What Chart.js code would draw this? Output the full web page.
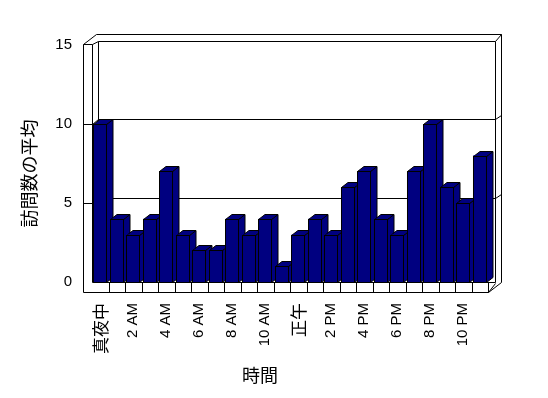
<!DOCTYPE html>
<html>
<head>
<meta charset="utf-8">
<script src="https://cdn.jsdelivr.net/npm/chart.js@4/dist/chart.umd.min.js"></script>
<style>
  html, body { margin: 0; padding: 0; background: #fff; }
</style>
</head>
<body>
<canvas id="visits" width="548" height="398"></canvas>
<script>
// hourly categories, only every other one gets a tick label
const hours = ['真夜中', '1 AM', '2 AM', '3 AM', '4 AM', '5 AM', '6 AM', '7 AM', '8 AM', '9 AM', '10 AM', '11 AM',
               '正午', '1 PM', '2 PM', '3 PM', '4 PM', '5 PM', '6 PM', '7 PM', '8 PM', '9 PM', '10 PM', '11 PM'];
const avgVisits = [10, 4, 3, 4, 7, 3, 2, 2, 4, 3, 4, 1, 3, 4, 3, 6, 7, 4, 3, 7, 10, 6, 5, 8];
const yTicks = [0, 5, 10, 15];
const gridValues = [5, 10];
const xTitle = '時間';
const yTitle = '訪問数の平均';

const NAVY = '#000080';
const FONT = "'Liberation Sans', 'Noto Sans CJK JP', sans-serif";
const DX = 6.5, DY = -5;   // depth of the bars

function poly(ctx, pts, fill) {
    ctx.beginPath();
    ctx.moveTo(pts[0][0], pts[0][1]);
    for (let i = 1; i < pts.length; i++) ctx.lineTo(pts[i][0], pts[i][1]);
    if (fill) {
        ctx.closePath();
        ctx.fillStyle = fill;
        ctx.fill();
    }
    ctx.stroke();
}

function barBox(bar) {
    return {
        l: Math.round(bar.x - bar.width / 2) + 0.5,
        r: Math.round(bar.x + bar.width / 2) - 0.5,
        t: Math.round(bar.y) + 0.5,
        b: Math.round(bar.base) + 0.5
    };
}

// walls, floor and back gridlines + the sides/tops of the bars
const frame3d = {
    id: 'frame3d',
    beforeDatasetsDraw(chart) {
        const ctx = chart.ctx;
        const a = chart.chartArea;
        const y = chart.scales.y;
        const L = Math.round(a.left) + 0.5, R = Math.round(a.right) + 0.5;
        const T = Math.round(a.top) + 0.5, B = Math.round(a.bottom) + 0.5;

        ctx.save();
        ctx.strokeStyle = '#000';
        ctx.lineWidth = 1;

        // outer outline
        poly(ctx, [[L - 9, T - 1], [L + 4, T - 11], [R + 13, T - 11], [R + 13, B], [R, B + 10],
                   [L - 9, B + 10], [L - 9, T - 1]]);
        // left wall
        poly(ctx, [[L - 9, T - 1], [L, T - 1], [L, B]]);
        poly(ctx, [[L, T - 1], [L + 6, T - 4]]);
        // back wall
        poly(ctx, [[L + 6, B], [L + 6, T - 4], [R + 7, T - 4], [R + 7, B]]);
        poly(ctx, [[R + 7, T - 4], [R + 13, T - 11]]);
        // floor
        poly(ctx, [[L, B], [R + 7, B]]);
        const w = (a.right - a.left) / hours.length;
        for (let i = 1; i <= hours.length; i++) {
            const xx = Math.round(a.left + i * w) + 0.5;
            poly(ctx, [[xx, B], [xx, B + 10]]);
        }
        poly(ctx, [[R, B + 10], [R + 7, B + 1]]);

        // gridlines
        gridValues.forEach(v => {
            const yf = Math.round(y.getPixelForValue(v)) + 0.5;
            const yb = yf - 5;
            poly(ctx, [[L - 9, yf], [L, yf], [L + 6, yb], [R + 7, yb], [R + 13, yb - 4]]);
        });

        // bar sides and tops
        chart.getDatasetMeta(0).data.forEach(bar => {
            const {l, r, t, b} = barBox(bar);
            poly(ctx, [[r, t], [r + DX, t + DY], [r + DX, b + DY], [r, b]], NAVY);
            poly(ctx, [[l, t], [l + DX, t + DY], [r + DX, t + DY], [r, t]], NAVY);
        });
        ctx.restore();
    },
    afterDatasetsDraw(chart) {
        // crisp black outline on the front faces
        const ctx = chart.ctx;
        ctx.save();
        ctx.strokeStyle = '#000';
        ctx.lineWidth = 1;
        chart.getDatasetMeta(0).data.forEach(bar => {
            const {l, r, t, b} = barBox(bar);
            ctx.fillStyle = NAVY;
            ctx.fillRect(l, t, r - l, b - t);
            ctx.strokeRect(l, t, r - l, b - t);
        });
        ctx.restore();
    },
    afterDraw(chart) {
        const ctx = chart.ctx;
        const a = chart.chartArea;
        ctx.save();
        ctx.fillStyle = '#000';
        ctx.font = "18px 'Noto Sans CJK JP', sans-serif";
        ctx.textAlign = 'center';
        ctx.textBaseline = 'middle';
        ctx.fillText(xTitle, (a.left + a.right) / 2 - 30, 375);
        ctx.translate(29, (a.top + a.bottom) / 2 + 10);
        ctx.rotate(-Math.PI / 2);
        ctx.fillText(yTitle, 0, 0);
        ctx.restore();
    }
};

new Chart(document.getElementById('visits'), {
    type: 'bar',
    data: {
        labels: hours,
        datasets: [{
            data: avgVisits,
            backgroundColor: NAVY,
            borderWidth: 0,
            barPercentage: 0.82,
            categoryPercentage: 1
        }]
    },
    options: {
        responsive: false,
        animation: false,
        layout: { padding: { top: 45, right: 60, left: 0, bottom: 0 } },
        plugins: { legend: { display: false }, tooltip: { enabled: false } },
        scales: {
            x: {
                grid: { display: false, drawTicks: false },
                border: { display: false },
                afterFit: s => { s.height = 116; },
                ticks: {
                    autoSkip: false,
                    maxRotation: 90,
                    minRotation: 90,
                    padding: 21,
                    color: '#000',
                    font: c => /[^\x00-\x7f]/.test(hours[c.index] || '')
                        ? { family: "'Noto Sans CJK JP', sans-serif", size: 17 }
                        : { family: FONT, size: 15 },
                    callback: (v, i) => i % 2 === 0 ? hours[i] : ''
                }
            },
            y: {
                min: 0,
                max: 15,
                grid: { display: false, drawTicks: false },
                border: { display: false },
                afterFit: s => { s.width = 92; },
                afterBuildTicks: s => { s.ticks = yTicks.map(v => ({ value: v })); },
                ticks: {
                    padding: 20,
                    color: '#000',
                    font: { family: FONT, size: 15 }
                }
            }
        }
    },
    plugins: [frame3d]
});
</script>
</body>
</html>
